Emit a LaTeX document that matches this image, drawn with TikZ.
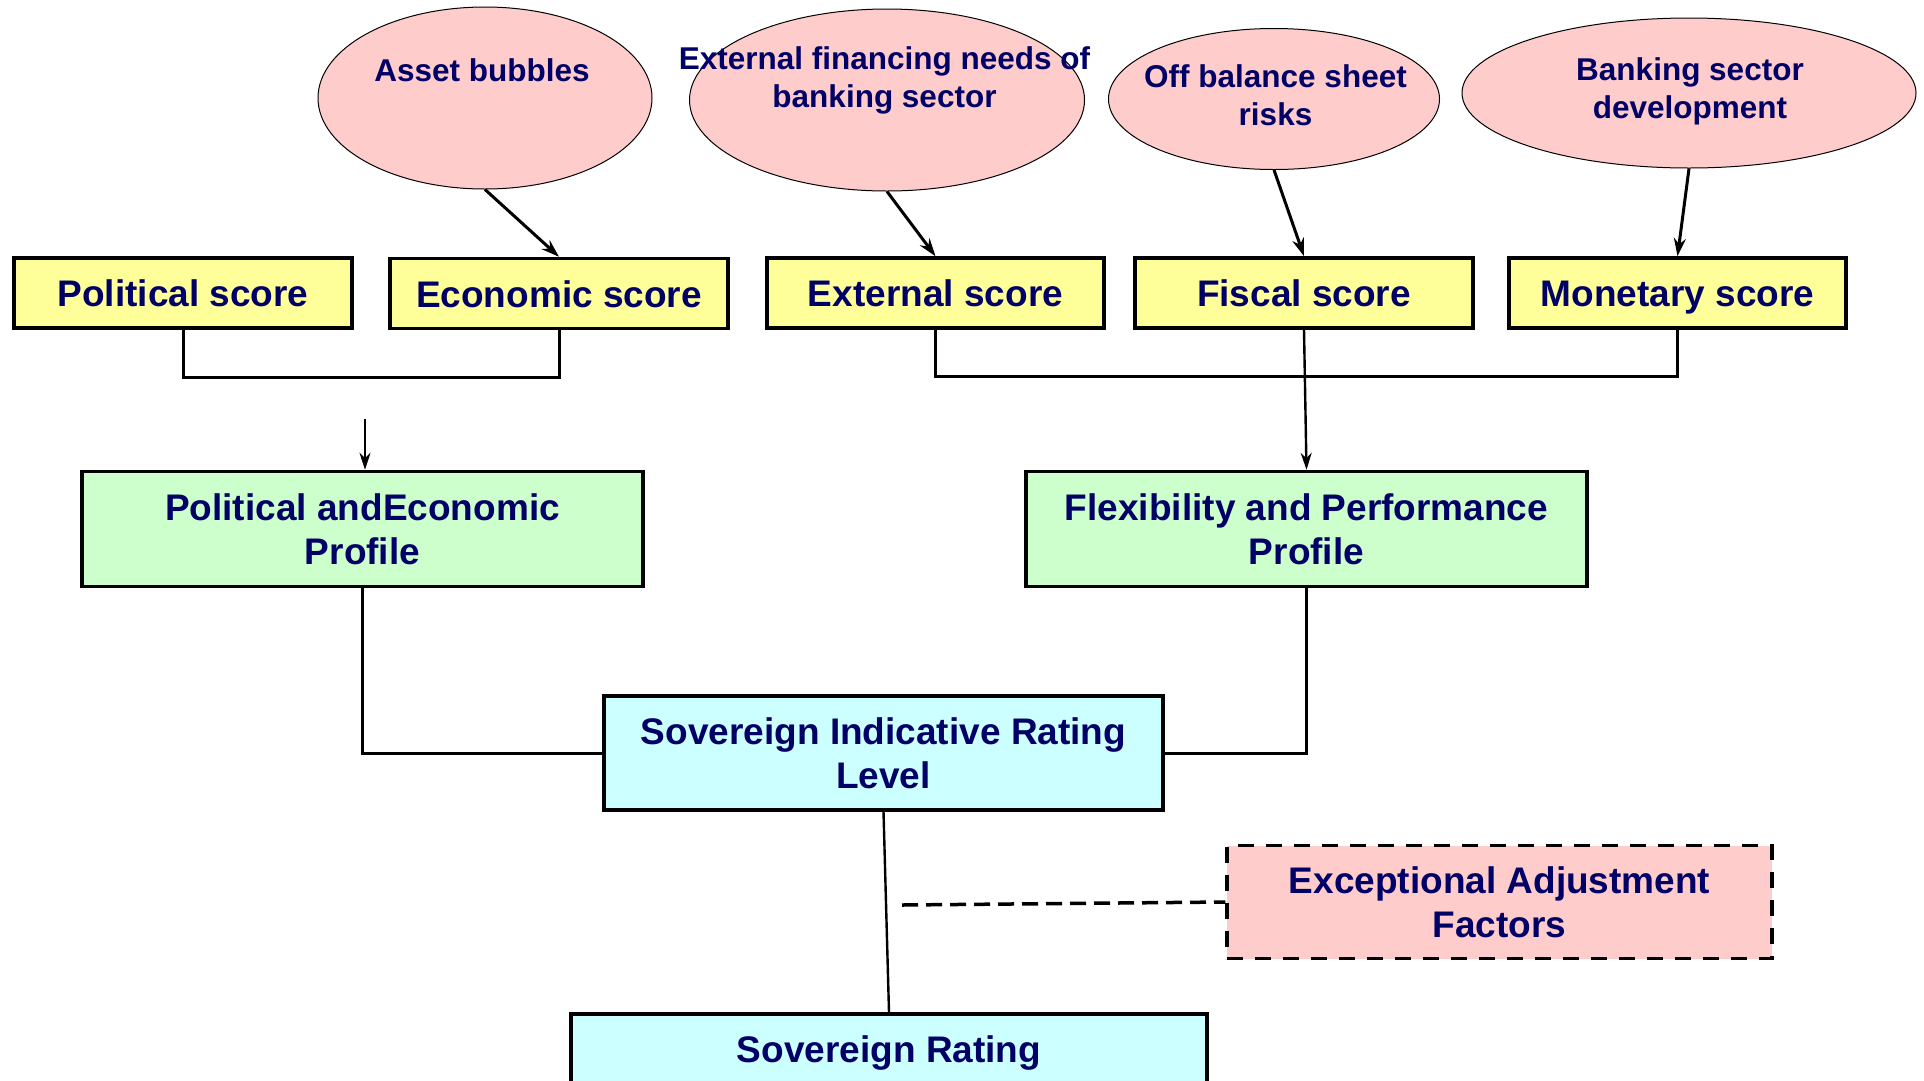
\documentclass[tikz,border=0pt]{standalone}
\usepackage{fontspec}
\setmainfont{Liberation Sans}
\usetikzlibrary{shapes.geometric,arrows.meta}
\definecolor{navy}{HTML}{000066}
\definecolor{scoreyellow}{HTML}{FFFF99}
\definecolor{profilegreen}{HTML}{CCFFCC}
\definecolor{ratingcyan}{HTML}{CCFFFF}
\definecolor{factorpink}{HTML}{FFCCCC}
\tikzset{
  boxtext/.style={font=\fontsize{37}{44}\selectfont\bfseries, text=navy, align=center},
  bubbletext/.style={font=\fontsize{31.5}{38}\selectfont\bfseries, text=navy, align=center},
  scorebox/.style={boxtext, draw=black, line width=3.5pt, fill=scoreyellow,
    rectangle, minimum width=338pt, minimum height=70pt, inner sep=0pt,
    text height=27.5pt, text depth=0pt},
  profilebox/.style={boxtext, draw=black, line width=3.5pt, fill=profilegreen,
    rectangle, minimum width=561pt, minimum height=115pt, inner sep=0pt},
  ratingbox/.style={boxtext, draw=black, line width=3.5pt, fill=ratingcyan,
    rectangle, minimum height=114pt, inner sep=0pt},
  factorbox/.style={boxtext, draw=black, line width=3.5pt, fill=factorpink,
    dash pattern=on 16pt off 12pt, rectangle, minimum width=545pt,
    minimum height=113pt, inner sep=0pt},
  bubble/.style={ellipse, draw=black, line width=1pt, fill=factorpink, inner sep=0pt},
  feedarrow/.style={line width=3pt, -{Stealth[length=18pt,width=12pt]}},
  groupline/.style={line width=3pt},
  downarrow/.style={line width=2.4pt, -{Stealth[length=17pt,width=11pt]}},
  plainline/.style={line width=2.4pt},
}
\begin{document}
\begin{tikzpicture}[x=1pt,y=-1pt]
\useasboundingbox (0,0) rectangle (1924,1080);

% risk bubbles
\node[bubble, minimum width=334pt, minimum height=182pt] (asset) at (485,98) {};
\node[bubble, minimum width=395pt, minimum height=182pt] (extfin) at (887,100) {};
\node[bubble, minimum width=331pt, minimum height=141pt] (offbal) at (1274,99) {};
\node[bubble, minimum width=454pt, minimum height=150pt] (banking) at (1689,93) {};
\node[bubbletext] (assetT) at (482,70) {Asset bubbles};
\node[bubbletext] (extfinT) at (884.5,80) {External financing needs of\\banking sector};
\node[bubbletext] (offbalT) at (1275.5,95) {Off balance sheet\\risks};
\node[bubbletext] (bankingT) at (1690,91) {Banking sector\\development};

% scores
\node[scorebox] (political) at (183,293) {Political score};
\node[scorebox] (economic) at (559,293.5) {Economic score};
\node[scorebox, minimum width=337pt] (external) at (935.5,293) {External score};
\node[scorebox] (fiscal) at (1304,293) {Fiscal score};
\node[scorebox, minimum width=337pt] (monetary) at (1677.5,293) {Monetary score};

% profiles
\node[profilebox] (pe) at (362.5,529) {Political andEconomic\\Profile};
\node[profilebox] (fp) at (1306.5,529) {Flexibility and Performance\\Profile};

% ratings
\node[ratingbox, minimum width=559pt] (sir) at (883.5,753) {Sovereign Indicative Rating\\Level};
\node[factorbox] (eaf) at (1499.5,902) {Exceptional Adjustment\\Factors};
\node[ratingbox, minimum width=636pt] (sr) at (889,1071) {Sovereign Rating\\\mbox{}};

% bubbles feeding the scores
\draw[feedarrow] (asset.south) -- (economic.north);
\draw[feedarrow] (extfin.south) -- (external.north);
\draw[feedarrow] (offbal.south) -- (fiscal.north);
\draw[feedarrow] (banking.south) -- (monetary.north);

% score groupings
\draw[groupline] (political.south) -- ++(0,48) -| (economic.south);
\draw[groupline] (external.south) -- ++(0,47) -| (monetary.south);

% into the profiles
\coordinate (peIn) at (365,419);
\draw[downarrow] (peIn) -- (peIn |- pe.north);
\draw[downarrow] (fiscal.south) -- (fp.north);

% profiles into the indicative level
\draw[groupline] (pe.south) |- (sir.west);
\draw[groupline] (fp.south) |- (sir.east);

% indicative level to final rating
\draw[plainline] (sir.south) -- (sr.north);
\coordinate (adj) at (902,905);
\draw[line width=3.5pt, dash pattern=on 16pt off 8pt] (adj) -- (eaf.west);
\end{tikzpicture}
\end{document}
